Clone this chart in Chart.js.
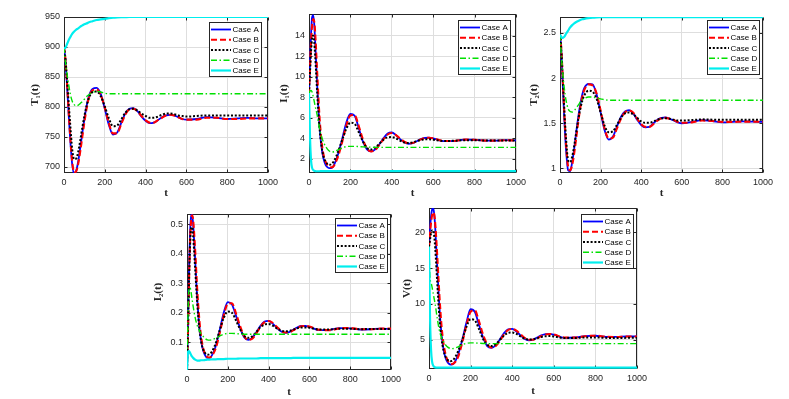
<!DOCTYPE html>
<html><head><meta charset="utf-8">
<script src="https://cdn.jsdelivr.net/npm/chart.js@4.4.1/dist/chart.umd.min.js"></script>
<style>
html,body{margin:0;padding:0;background:#fff;}
#wrap{position:relative;width:789px;height:399px;overflow:hidden;background:#fff;}
canvas{position:absolute;}
</style></head><body><div id="wrap"></div>
<script>
// ---------- DATA ----------
const tVals = [0,5,10,15,20,25,30,
  40,50,60,70,80,90,100,110,120,
  140,160,180,200,220,240,260,280,300,320,340,360,380,400,420,440,460,480,500,520,540,560,580,600,
  650,700,750,800,850,900,950,1000];
const caseLabels = ['Case A','Case B','Case C','Case D','Case E'];
const xTickVals = [0,200,400,600,800,1000];

// T1(t)
const T1_A = [900,885,862,835,805,775,748, 705,689,694,710,733,757,780,800,816,
  830,832,822,797,770,754,757,773,789,797,798,793,784,777,773,774,778,783,786,787,786,783,780,779,
  780,783,782,780,781,782,781,781];
const T1_B = [900,887,865,839,810,781,754, 710,691,693,706,727,751,775,796,813,
  828,829,820,799,773,756,756,771,787,796,797,793,785,778,774,774,778,782,786,787,786,783,780,779,
  779,782,782,780,780,781,781,781];
const T1_C = [900,887,868,845,820,796,773, 730,713,714,726,745,766,785,801,813,
  825,826,818,801,781,768,769,779,790,796,797,794,789,785,782,782,784,787,789,789,788,786,785,784,
  785,786,786,786,786,786,786,786];
const T1_D = [900,882,868,855,843,833,823, 810,804,802,803,806,809,813,817,820,
  824,826,825,823,822,822,822,822,822,822,822,822,822,822,822,822,822,822,822,822,822,822,822,822,
  822,822,822,822,822,822,822,822];
const T1_E = [898,898,901,905,909,913,916, 922,926,929,931,934,936,938,939,941,
  943,945,946,947,948,948.8,949.3,949.6,949.8,950,950,950,950,950,950,950,950,950,950,950,950,950,950,950,
  950,950,950,950,950,950,950,950];
const T1_ticks = [700,750,800,850,900,950];

// I1(t)
const I1_A = [8.4,11.5,14.2,15.8,16.0,15.2,13.3, 9.0,5.4,3.2,2.0,1.4,1.15,1.08,1.1,1.35,
  2.4,3.9,5.5,6.35,6.2,5.0,3.7,2.9,2.7,2.9,3.4,4.0,4.45,4.55,4.3,3.9,3.6,3.45,3.5,3.7,3.9,4.02,4.05,3.98,
  3.7,3.72,3.86,3.84,3.75,3.75,3.8,3.78];
const I1_B = [8.4,11.0,13.5,15.0,15.6,15.4,14.2, 10.2,6.3,3.8,2.4,1.7,1.35,1.2,1.15,1.3,
  2.2,3.6,5.2,6.2,6.25,5.2,3.9,3.0,2.7,2.85,3.35,3.9,4.35,4.5,4.3,3.95,3.65,3.5,3.52,3.68,3.88,4.0,4.03,3.98,
  3.72,3.72,3.85,3.84,3.76,3.76,3.79,3.78];
const I1_C = [8.4,10.5,12.5,13.7,14.0,13.4,12.0, 8.3,5.2,3.3,2.2,1.7,1.45,1.4,1.5,1.75,
  2.65,3.8,4.9,5.5,5.4,4.6,3.7,3.05,2.9,3.1,3.45,3.85,4.08,4.1,3.98,3.75,3.58,3.52,3.58,3.7,3.82,3.88,3.88,3.84,
  3.72,3.74,3.8,3.8,3.76,3.77,3.78,3.77];
const I1_D = [8.4,8.6,8.65,8.5,8.1,7.6,7.1, 6.2,5.0,4.2,3.6,3.2,2.9,2.72,2.65,2.67,
  2.85,3.05,3.17,3.2,3.2,3.18,3.15,3.13,3.12,3.1,3.1,3.1,3.1,3.1,3.1,3.1,3.1,3.1,3.1,3.1,3.1,3.1,3.1,3.1,
  3.1,3.1,3.1,3.1,3.1,3.1,3.1,3.1];
const I1_E = [8.4,4.0,1.8,1.1,0.9,0.82,0.79, 0.77,0.77,0.78,0.78,0.78,0.78,0.78,0.78,0.78,
  0.78,0.78,0.78,0.78,0.78,0.78,0.78,0.78,0.78,0.78,0.78,0.78,0.78,0.78,0.78,0.78,0.78,0.78,0.78,0.78,0.78,0.78,0.78,0.78,
  0.78,0.78,0.78,0.78,0.78,0.78,0.78,0.78];
const I1_ticks = [2,4,6,8,10,12,14];

// T2(t)
const T2_A = [2.48,2.35,2.12,1.85,1.6,1.38,1.2, 0.98,0.97,1.07,1.22,1.4,1.57,1.71,1.82,1.89,
  1.935,1.93,1.82,1.62,1.42,1.32,1.35,1.46,1.57,1.63,1.645,1.61,1.54,1.48,1.455,1.46,1.5,1.54,1.56,1.565,1.55,1.53,1.51,1.5,
  1.515,1.535,1.525,1.51,1.515,1.52,1.518,1.515];
const T2_B = [2.48,2.37,2.17,1.92,1.67,1.45,1.26, 1.02,0.98,1.04,1.17,1.34,1.52,1.67,1.79,1.87,
  1.93,1.92,1.83,1.64,1.44,1.33,1.34,1.44,1.55,1.62,1.64,1.62,1.55,1.49,1.46,1.46,1.49,1.53,1.555,1.56,1.55,1.535,1.515,1.505,
  1.51,1.53,1.525,1.515,1.515,1.518,1.518,1.515];
const T2_C = [2.48,2.36,2.16,1.93,1.7,1.49,1.32, 1.09,1.07,1.13,1.25,1.4,1.54,1.66,1.75,1.81,
  1.86,1.85,1.77,1.62,1.47,1.4,1.41,1.48,1.56,1.61,1.62,1.6,1.56,1.52,1.505,1.505,1.52,1.54,1.553,1.555,1.55,1.54,1.53,1.53,
  1.535,1.543,1.54,1.538,1.54,1.54,1.54,1.54];
const T2_D = [2.48,2.3,2.15,2.02,1.91,1.82,1.75, 1.66,1.63,1.625,1.64,1.67,1.7,1.735,1.76,1.775,
  1.79,1.79,1.78,1.77,1.76,1.755,1.755,1.755,1.755,1.755,1.755,1.755,1.755,1.755,1.755,1.755,1.755,1.755,1.755,1.755,1.755,1.755,1.755,1.755,
  1.755,1.755,1.755,1.755,1.755,1.755,1.755,1.755];
const T2_E = [2.48,2.46,2.445,2.445,2.455,2.47,2.49, 2.525,2.56,2.585,2.605,2.62,2.632,2.642,2.65,2.655,
  2.662,2.667,2.67,2.672,2.673,2.674,2.674,2.674,2.674,2.674,2.674,2.674,2.674,2.674,2.674,2.674,2.674,2.674,2.674,2.674,2.674,2.674,2.674,2.674,
  2.674,2.674,2.674,2.674,2.674,2.674,2.674,2.674];
const T2_ticks = [1,1.5,2,2.5];

// I2(t)
const I2_A = [0.006,0.17,0.35,0.47,0.525,0.533,0.5, 0.38,0.25,0.155,0.1,0.07,0.054,0.047,0.047,0.053,
  0.085,0.14,0.2,0.236,0.228,0.19,0.148,0.117,0.108,0.115,0.134,0.156,0.17,0.172,0.163,0.149,0.137,0.132,0.134,0.142,0.15,0.155,0.155,0.152,
  0.141,0.142,0.148,0.147,0.143,0.144,0.146,0.145];
const I2_B = [0.006,0.14,0.31,0.44,0.51,0.53,0.515, 0.41,0.28,0.18,0.115,0.078,0.059,0.05,0.048,0.052,
  0.078,0.13,0.19,0.23,0.232,0.198,0.155,0.121,0.108,0.112,0.13,0.152,0.168,0.172,0.166,0.152,0.14,0.133,0.133,0.14,0.148,0.154,0.155,0.153,
  0.142,0.141,0.147,0.148,0.144,0.144,0.146,0.146];
const I2_C = [0.006,0.15,0.31,0.43,0.485,0.49,0.46, 0.35,0.235,0.15,0.1,0.074,0.062,0.058,0.059,0.066,
  0.095,0.14,0.182,0.204,0.2,0.174,0.144,0.122,0.115,0.12,0.135,0.151,0.16,0.162,0.156,0.147,0.14,0.137,0.138,0.142,0.147,0.15,0.15,0.149,
  0.143,0.143,0.146,0.146,0.144,0.145,0.145,0.145];
const I2_D = [0.006,0.2,0.28,0.285,0.27,0.245,0.222, 0.183,0.157,0.14,0.128,0.119,0.112,0.108,0.107,0.108,
  0.114,0.121,0.127,0.13,0.13,0.129,0.128,0.127,0.127,0.127,0.127,0.127,0.127,0.127,0.127,0.127,0.127,0.127,0.127,0.127,0.127,0.127,0.127,0.127,
  0.127,0.127,0.127,0.127,0.127,0.127,0.127,0.127];
const I2_E = [0.006,0.068,0.07,0.064,0.057,0.051,0.047, 0.041,0.038,0.038,0.039,0.039,0.04,0.041,0.041,0.042,
  0.042,0.043,0.043,0.044,0.044,0.044,0.045,0.045,0.045,0.045,0.045,0.046,0.046,0.046,0.046,0.046,0.046,0.046,0.046,0.047,0.047,0.047,0.047,0.047,
  0.047,0.047,0.047,0.047,0.047,0.047,0.047,0.047];
const I2_ticks = [0.1,0.2,0.3,0.4,0.5];

// V(t)
const V_A = [18,20.5,22.3,23.2,23.4,22.6,20.6, 15,9.6,5.8,3.6,2.4,1.8,1.55,1.5,1.7,
  2.9,5.0,7.4,9.25,8.9,7.1,5.3,4.1,3.85,4.2,5.0,5.9,6.45,6.5,6.15,5.6,5.1,4.92,5.0,5.3,5.6,5.78,5.8,5.7,
  5.25,5.3,5.5,5.55,5.4,5.38,5.45,5.45];
const V_B = [18,19.8,21.4,22.4,22.8,22.5,21.2, 16.5,11.2,7.0,4.4,2.9,2.1,1.7,1.6,1.7,
  2.6,4.6,7.0,8.9,9.1,7.6,5.7,4.35,3.9,4.1,4.8,5.7,6.35,6.5,6.25,5.75,5.25,4.98,4.98,5.2,5.5,5.72,5.8,5.73,
  5.3,5.28,5.48,5.55,5.42,5.38,5.44,5.45];
const V_C = [18,19.0,19.9,20.3,20.3,19.5,17.8, 12.8,8.2,5.2,3.5,2.6,2.15,2.0,2.05,2.3,
  3.4,5.0,6.8,7.85,7.7,6.5,5.1,4.3,4.1,4.35,4.95,5.55,5.95,6.0,5.8,5.45,5.15,5.02,5.05,5.2,5.38,5.48,5.5,5.45,
  5.22,5.22,5.3,5.3,5.25,5.24,5.25,5.25];
const V_D = [18,13.6,13.0,12.3,11.5,10.7,9.9, 7.9,6.3,5.3,4.7,4.25,3.95,3.8,3.75,3.78,
  4.0,4.3,4.48,4.55,4.55,4.5,4.47,4.45,4.44,4.44,4.44,4.44,4.44,4.44,4.44,4.44,4.44,4.44,4.44,4.44,4.44,4.44,4.44,4.44,
  4.44,4.44,4.44,4.44,4.44,4.44,4.44,4.44];
const V_E = [18,8,3.5,1.9,1.4,1.2,1.12, 1.09,1.09,1.09,1.09,1.09,1.09,1.09,1.09,1.09,
  1.09,1.09,1.09,1.09,1.09,1.09,1.09,1.09,1.09,1.09,1.09,1.09,1.09,1.09,1.09,1.09,1.09,1.09,1.09,1.09,1.09,1.09,1.09,1.09,
  1.09,1.09,1.09,1.09,1.09,1.09,1.09,1.09];
const V_ticks = [5,10,15,20];

// ---------- STYLE / LAYOUT ----------
const STYLES = [
  {color:'#0000ff', width:1.8, dash:[]},
  {color:'#ff0000', width:2.1, dash:[6,3]},
  {color:'#000000', width:2,   dash:[2,1.8]},
  {color:'#00e000', width:1.4, dash:[6,2.5,1.5,2.5]},
  {color:'#00eeee', width:2.2, dash:[]}
];
const panels = [
  {series:[T1_A,T1_B,T1_C,T1_D,T1_E], yTicks:T1_ticks, ymin:690, ymax:950, title:'T\u2081(t)',
   L:64,T:17,R:268,B:173, yOff:28, xOff:20, legR:7, legT:5},
  {series:[I1_A,I1_B,I1_C,I1_D,I1_E], yTicks:I1_ticks, ymin:0.6, ymax:16.1, title:'I\u2081(t)',
   L:309,T:14,R:516,B:173, yOff:24, xOff:20, legR:6, legT:6},
  {series:[T2_A,T2_B,T2_C,T2_D,T2_E], yTicks:T2_ticks, ymin:0.95, ymax:2.675, title:'T\u2082(t)',
   L:560,T:17,R:763,B:173, yOff:25, xOff:20, legR:4, legT:3},
  {series:[I2_A,I2_B,I2_C,I2_D,I2_E], yTicks:I2_ticks, ymin:0.006, ymax:0.534, title:'I\u2082(t)',
   L:187,T:214,R:391,B:370, yOff:28, xOff:22, legR:4, legT:4},
  {series:[V_A,V_B,V_C,V_D,V_E], yTicks:V_ticks, ymin:0.9, ymax:23.4, title:'V(t)',
   L:429,T:208,R:637,B:369, yOff:21, xOff:22, legR:4, legT:6}
];

const wrap = document.getElementById('wrap');
const tickFont = {family:'"Liberation Sans", Arial, sans-serif', size:9, weight:'normal'};
const titleFont = {family:'"Liberation Serif", "DejaVu Serif", serif', size:11, weight:'bold'};

function boxPlugin(p){
  return {id:'boxlegend',
  beforeDatasetsDraw(chart){
    const {ctx, chartArea:a, scales} = chart;
    const x = scales.x, y = scales.y;
    ctx.save();
    ctx.strokeStyle = '#262626'; ctx.lineWidth = 1; ctx.setLineDash([]);
    const l = Math.round(a.left)+0.5, t = Math.round(a.top)+0.5;
    const r = Math.round(a.right)-0.5, b = Math.round(a.bottom)-0.5;
    ctx.strokeRect(l, t, r-l, b-t);
    ctx.beginPath();
    xTickVals.forEach(v=>{
      const px = Math.round(x.getPixelForValue(v))+0.5;
      ctx.moveTo(px,b); ctx.lineTo(px,b-3);
      ctx.moveTo(px,t); ctx.lineTo(px,t+3);
    });
    p.yTicks.forEach(v=>{
      const py = Math.round(y.getPixelForValue(v))+0.5;
      ctx.moveTo(l,py); ctx.lineTo(l+3,py);
      ctx.moveTo(r,py); ctx.lineTo(r-3,py);
    });
    ctx.stroke();
    ctx.restore();
  },
  afterDraw(chart){
    const {ctx, chartArea:a} = chart;
    ctx.save();
    const lw = 52, lh = 54;
    const lx = Math.round(a.right - p.legR - lw), ly = Math.round(a.top + p.legT);
    ctx.fillStyle = '#ffffff'; ctx.fillRect(lx, ly, lw, lh);
    ctx.strokeStyle = '#262626'; ctx.lineWidth = 1; ctx.setLineDash([]);
    ctx.strokeRect(lx+0.5, ly+0.5, lw, lh);
    caseLabels.forEach((lab,i)=>{
      const cy = ly + 7.5 + i*10.25;
      const s = STYLES[i];
      ctx.setLineDash(s.dash); ctx.strokeStyle = s.color; ctx.lineWidth = s.width;
      ctx.beginPath(); ctx.moveTo(lx+2, cy); ctx.lineTo(lx+22, cy); ctx.stroke();
      ctx.setLineDash([]);
      ctx.fillStyle = '#000'; ctx.font = '8px "Liberation Sans", Arial, sans-serif';
      ctx.textBaseline = 'middle'; ctx.textAlign = 'left';
      ctx.fillText(lab, lx+23.5, cy+0.5);
    });
    ctx.restore();
  }};
}

function makePanel(p){
  const W = Math.round(p.yOff + 6.6);
  const H = Math.round(p.xOff + 6.6);
  const padTop = 10, padRight = 24;
  const cw = W + (p.R - p.L) + padRight;
  const ch = padTop + (p.B - p.T) + H;
  const c = document.createElement('canvas');
  c.width = cw; c.height = ch;
  c.style.left = (p.L - W) + 'px'; c.style.top = (p.T - padTop) + 'px';
  c.style.width = cw + 'px'; c.style.height = ch + 'px';
  wrap.appendChild(c);
  new Chart(c, {
    type:'line',
    data:{datasets: p.series.map((vals,i)=>({
      label: caseLabels[i],
      data: tVals.map((tv,j)=>({x:tv, y:vals[j]})),
      borderColor: STYLES[i].color, borderWidth: STYLES[i].width, borderDash: STYLES[i].dash,
      pointRadius:0, fill:false, cubicInterpolationMode:'monotone', order: 5 - i
    }))},
    options:{
      responsive:false, animation:false, devicePixelRatio:1,
      layout:{padding:{top:padTop, right:padRight, left:0, bottom:0}},
      plugins:{legend:{display:false}, tooltip:{enabled:false}},
      scales:{
        x:{type:'linear', min:0, max:1000,
          afterBuildTicks: s=>{ s.ticks = xTickVals.map(v=>({value:v})); },
          afterFit: s=>{ s.height = H; },
          grid:{color:'#dedede', drawTicks:false, lineWidth:1},
          border:{display:false},
          ticks:{padding:4, color:'#262626', font:tickFont, maxRotation:0, autoSkip:false, callback:v=>String(v)},
          title:{display:true, text:'t', padding:{top:0,bottom:0}, color:'#262626', font:titleFont}
        },
        y:{type:'linear', min:p.ymin, max:p.ymax,
          afterBuildTicks: s=>{ s.ticks = p.yTicks.map(v=>({value:v})); },
          afterFit: s=>{ s.width = W; },
          grid:{color:'#dedede', drawTicks:false, lineWidth:1},
          border:{display:false},
          ticks:{padding:4, color:'#262626', font:tickFont, autoSkip:false, callback:v=>String(v)},
          title:{display:true, text:p.title, padding:{top:0,bottom:0}, color:'#262626', font:titleFont}
        }
      }
    },
    plugins:[boxPlugin(p)]
  });
}
panels.forEach(makePanel);
</script>
</body></html>
